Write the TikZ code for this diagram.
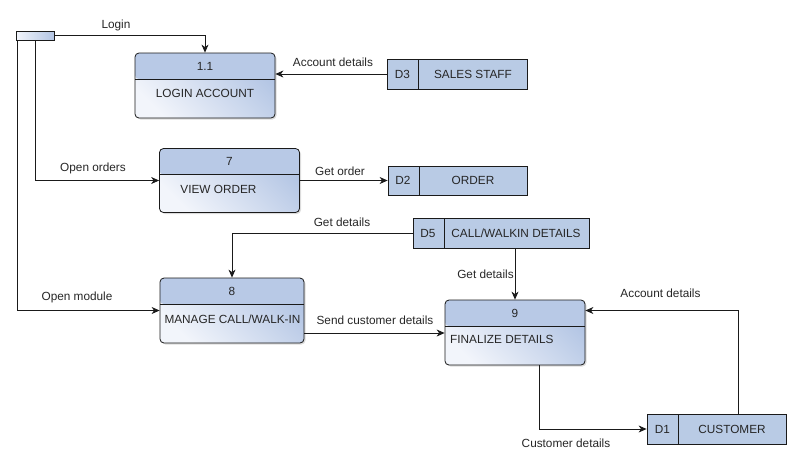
\documentclass[tikz,border=0pt]{standalone}
\usepackage{fontspec}
\setmainfont{Liberation Sans}
\usetikzlibrary{arrows.meta,shadows}
\definecolor{hdr}{HTML}{B8C9E6}
\definecolor{bodyhi}{HTML}{B3C5E4}
\definecolor{bodylo}{HTML}{F2F5FB}
\definecolor{storefill}{HTML}{B9CBE5}
\definecolor{edge}{HTML}{1A1A1A}
\begin{document}
\begin{tikzpicture}[x=1pt,y=-1pt,
  font=\fontsize{11.8}{14}\selectfont,
  proc/.style={draw=edge, line width=0.8pt, rounded corners=4pt, inner sep=0pt,
    top color=bodyhi, bottom color=bodylo, shading angle=-45,
    drop shadow={shadow xshift=1.5pt, shadow yshift=-1.5pt, fill=black!30, opacity=0.45},
    path picture={
      \fill[hdr] (path picture bounding box.north west) rectangle ([yshift=-26pt]path picture bounding box.north east);
      \draw[edge, line width=0.8pt] ([yshift=-26pt]path picture bounding box.north west) -- ([yshift=-26pt]path picture bounding box.north east);
    }},
  store/.style={draw=edge, fill=storefill, line width=0.8pt, inner sep=0pt, minimum height=30pt,
    path picture={
      \draw[edge, line width=0.8pt] ([xshift=31pt]path picture bounding box.north west) -- ([xshift=31pt]path picture bounding box.south west);
    }},
  ent/.style={draw=edge, line width=0.8pt, inner sep=0pt, minimum width=38pt, minimum height=9pt,
    left color=bodylo, right color=bodyhi},
  flow/.style={draw=edge, line width=0.8pt, -{Stealth[length=8pt,width=7pt,inset=2.5pt]}},
  txt/.style={inner sep=0pt, text=black!85}
]
\useasboundingbox (0,0) rectangle (801,467);

% external entity
\node[ent] (e) at (35,35.5) {};

% processes
\node[proc, minimum width=140pt, minimum height=65pt] (p11) at (205,85.5) {};
\node[txt] (p11h) at (205,66) {1.1};
\node[txt] (p11b) at (205,93) {LOGIN ACCOUNT};

\node[proc, minimum width=140pt, minimum height=64pt] (p7) at (229.5,180.5) {};
\node[txt] (p7h) at (229.5,161) {7};
\node[txt] (p7b) at (218.5,189) {VIEW ORDER};

\node[proc, minimum width=144pt, minimum height=65pt] (p8) at (232,310.5) {};
\node[txt] (p8h) at (232,291) {8};
\node[txt] (p8b) at (232.5,319.5) {MANAGE CALL/WALK-IN};

\node[proc, minimum width=140pt, minimum height=65pt] (p9) at (515,332.5) {};
\node[txt] (p9h) at (515,313) {9};
\node[txt, anchor=west] (p9b) at (450,339.5) {FINALIZE DETAILS};

% data stores
\node[store, minimum width=140pt] (d3) at (457,74) {};
\node[txt] (d3a) at (402.5,74) {D3};
\node[txt] (d3b) at (473,74) {SALES STAFF};

\node[store, minimum width=139pt, minimum height=29pt] (d2) at (457.5,180.5) {};
\node[txt] (d2a) at (403,180.5) {D2};
\node[txt] (d2b) at (473,180.5) {ORDER};

\node[store, minimum width=176pt] (d5) at (501,233) {};
\node[txt] (d5a) at (428,233) {D5};
\node[txt] (d5b) at (516,233) {CALL/WALKIN DETAILS};

\node[store, minimum width=139pt] (d1) at (716.5,429) {};
\node[txt] (d1a) at (662.5,429) {D1};
\node[txt] (d1b) at (732,429) {CUSTOMER};

% flows
\draw[flow] (e.east) -| (p11.north);
\draw[flow] (d3.west) -- (d3.west -| p11.east);
\draw[flow] (e.south) |- (p7.west);
\draw[flow] ([xshift=2pt]e.south west) |- (p8.west);
\draw[flow] (p7.east) -- (d2.west);
\draw[flow] (d5.west) -| (p8.north);
\draw[flow] (p9.north |- d5.south) -- (p9.north);
\draw[flow] ([yshift=-22.5pt]p8.east) coordinate (s1) -- (s1 -| p9.west);
\draw[flow] ([xshift=21.5pt]d1.north) |- ([yshift=22pt]p9.east);
\draw[flow] ([xshift=24pt]p9.south) |- (d1.west);

% flow labels
\node[txt] (l1) at (116,25) {Login};
\node[txt] (l2) at (333,62) {Account details};
\node[txt] (l3) at (93,168) {Open orders};
\node[txt] (l4) at (340,171) {Get order};
\node[txt] (l5) at (342,222) {Get details};
\node[txt] (l6) at (485.5,274.5) {Get details};
\node[txt] (l7) at (77,297) {Open module};
\node[txt] (l8) at (375,320) {Send customer details};
\node[txt] (l9) at (660.5,293) {Account details};
\node[txt] (l10) at (566,443) {Customer details};
\end{tikzpicture}
\end{document}
